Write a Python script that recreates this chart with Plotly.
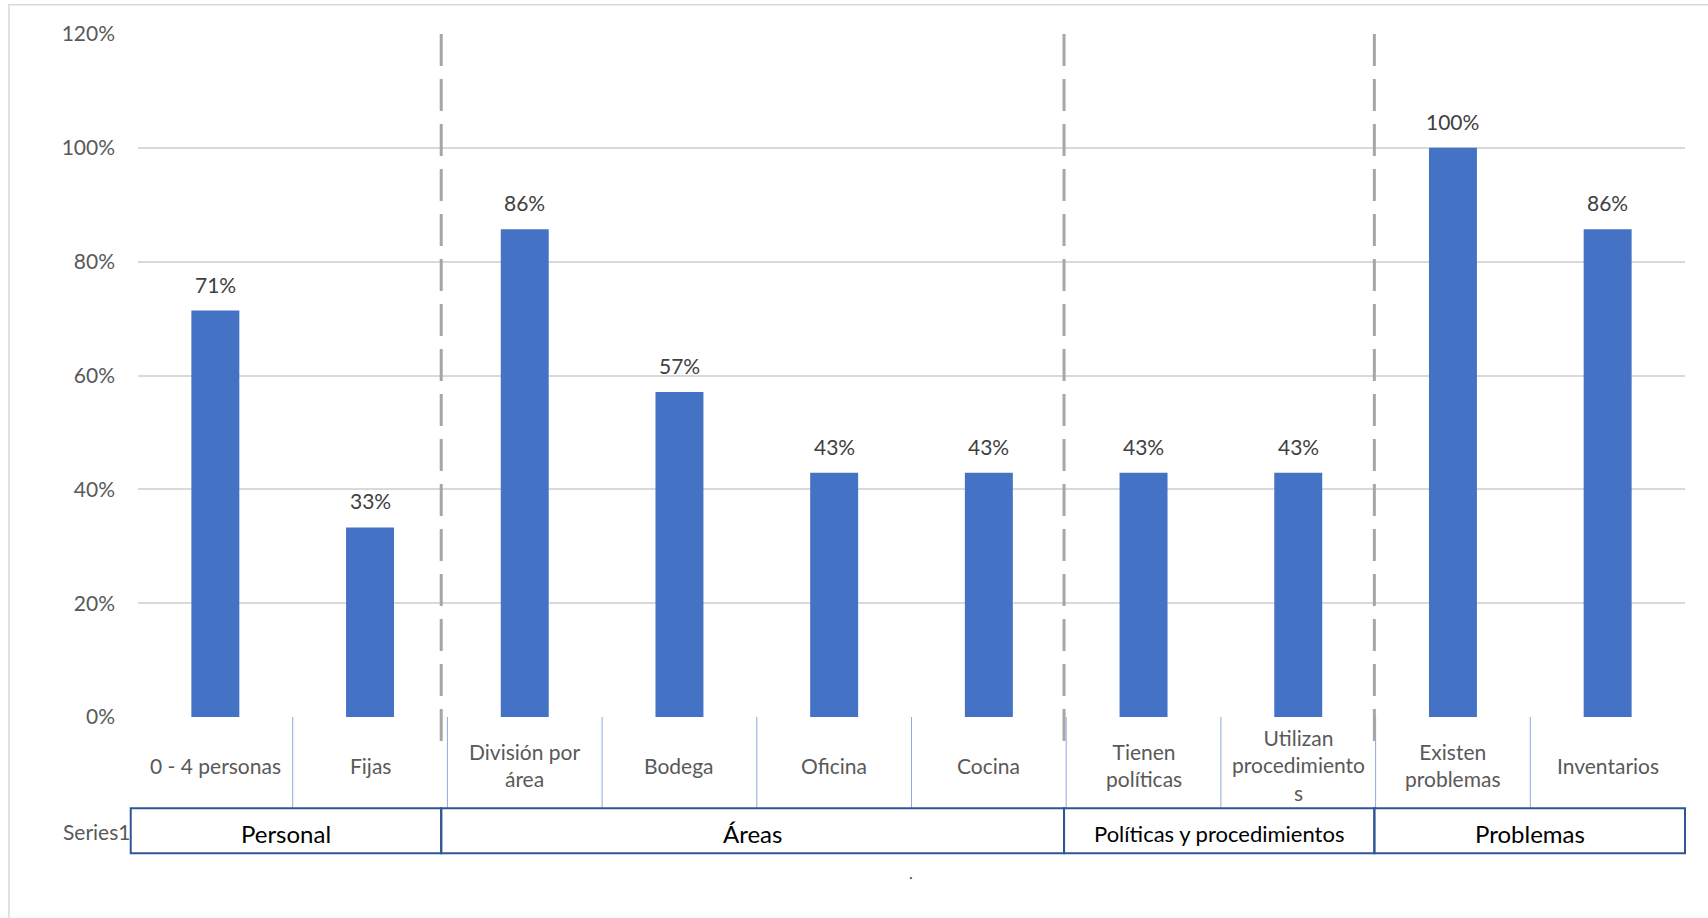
import plotly.graph_objects as go

categories = ["0 - 4 personas", "Fijas", "División por<br>área", "Bodega", "Oficina", "Cocina",
              "Tienen<br>políticas", "Utilizan<br>procedimiento<br>s", "Existen<br>problemas", "Inventarios"]
values = [0.714, 0.333, 0.857, 0.571, 0.429, 0.429, 0.429, 0.429, 1.0, 0.857]
groups = ["Personal", "Áreas", "Políticas y procedimientos", "Problemas"]
group_sizes = [2, 4, 2, 2]
group_font = [24, 24, 22, 24]
y_ticks = [0, 0.2, 0.4, 0.6, 0.8, 1.0, 1.2]
series_name = "Series1"

FONT = "Lato"
x_idx = list(range(len(categories)))
N = len(categories)
# small visual offsets of the group separators (in category units), as drawn in the source
sep_offsets = [-0.04, -0.014, -0.008]


def to_paper(xd):
    # category index -> paper coordinate (axis range is [-0.5, N-0.5])
    return (xd + 0.5) / N


fig = go.Figure()
fig.add_trace(go.Bar(x=x_idx, y=values, marker_color="#4472C4", marker_line_width=0,
                     width=0.31, showlegend=False, hoverinfo="skip"))

shapes = []
annotations = []

# data labels
for i, v in zip(x_idx, values):
    annotations.append(dict(x=i, y=v, xref="x", yref="y", text=f"{v:.0%}", showarrow=False,
                            yanchor="bottom", yshift=12,
                            font=dict(family=FONT, size=21, color="#404040")))

# category labels
for i, c in zip(x_idx, categories):
    annotations.append(dict(x=i, y=-0.0707, xref="x", yref="paper", text=c, showarrow=False,
                            yanchor="middle", xanchor="center",
                            font=dict(family=FONT, size=21, color="#595959")))

# category dividers
for k in range(N - 1):
    shapes.append(dict(type="line", xref="paper", yref="paper", x0=to_paper(k + 0.5),
                       x1=to_paper(k + 0.5), y0=0, y1=-0.1337,
                       line=dict(color="#8FAADC", width=1)))

# group boxes + dashed separators
start = 0
for gi, (g, n) in enumerate(zip(groups, group_sizes)):
    left = start - 0.5 + (sep_offsets[gi - 1] if gi > 0 else -0.047)
    right = start + n - 0.5 + (sep_offsets[gi] if gi < len(groups) - 1 else 0)
    shapes.append(dict(type="rect", xref="paper", yref="paper", x0=to_paper(left),
                       x1=to_paper(right), y0=-0.1337, y1=-0.1996,
                       line=dict(color="#2F5597", width=2), fillcolor="rgba(0,0,0,0)"))
    annotations.append(dict(x=to_paper((left + right) / 2), y=-0.171, xref="paper",
                            yref="paper", text=g, showarrow=False, xanchor="center",
                            yanchor="middle",
                            font=dict(family=FONT, size=group_font[gi], color="#000000")))
    if gi < len(groups) - 1:
        shapes.append(dict(type="line", xref="paper", yref="paper", x0=to_paper(right),
                           x1=to_paper(right), y0=1.0, y1=-0.0502,
                           line=dict(color="#A6A6A6", width=3, dash="32px,13px")))
    start += n

annotations.append(dict(x=-0.0042, y=-0.1676, xref="paper", yref="paper", text=series_name,
                        showarrow=False, xanchor="right", yanchor="middle",
                        font=dict(family=FONT, size=21, color="#595959")))
annotations.append(dict(x=to_paper(4.497), y=-0.244, xref="paper", yref="paper", text=".",
                        showarrow=False, xanchor="center",
                        font=dict(family=FONT, size=16, color="#404040")))

# outer chart border (left and top visible)
shapes.append(dict(type="rect", xref="paper", yref="paper", x0=-0.0834, x1=1.2,
                   y0=-0.5, y1=1.043, line=dict(color="#D9D9D9", width=1.5),
                   fillcolor="rgba(0,0,0,0)"))

fig.update_layout(
    width=1708, height=918,
    margin=dict(l=138, r=23, t=34, b=201),
    paper_bgcolor="white", plot_bgcolor="white",
    shapes=shapes, annotations=annotations,
    font=dict(family=FONT),
    xaxis=dict(range=[-0.5, N - 0.5], showticklabels=False, showgrid=False, zeroline=False,
               showline=False, ticks=""),
    yaxis=dict(range=[0, 1.2], tickvals=y_ticks, tickformat=".0%", showgrid=True,
               gridcolor="#D9D9D9", gridwidth=1.5, zeroline=False, showline=False,
               ticks="", ticklabelstandoff=22,
               tickfont=dict(family=FONT, size=21, color="#595959")),
)

fig.write_html("out.html", config={"displayModeBar": False},
               post_script="document.body.style.margin='0';")
